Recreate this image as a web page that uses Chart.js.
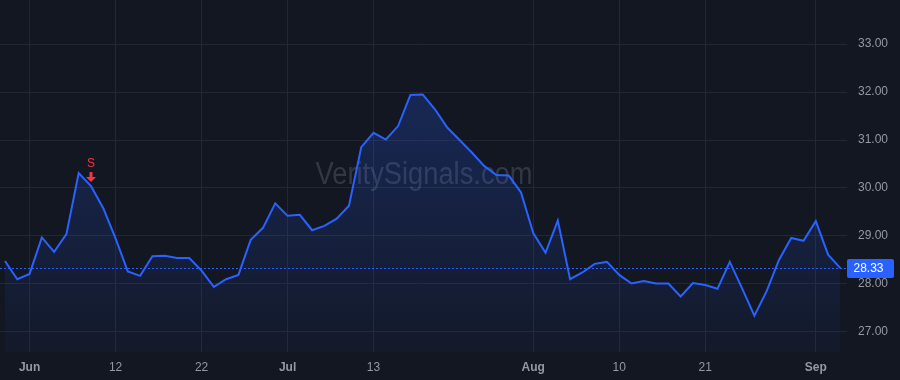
<!DOCTYPE html>
<html>
<head>
<meta charset="utf-8">
<script src="https://cdn.jsdelivr.net/npm/chart.js@4.4.1/dist/chart.umd.min.js"></script>
<style>
  html, body { margin: 0; padding: 0; background: #131722; }
  #wrap { width: 900px; height: 380px; }
</style>
</head>
<body>
<div id="wrap"><canvas id="c" width="900" height="380"></canvas></div>
<script>
// ---- data ----
const prices = [
  28.48, 28.10, 28.21, 28.97, 28.67, 29.04, 30.31, 30.04, 29.58, 28.95,
  28.26, 28.17, 28.58, 28.59, 28.54, 28.54, 28.28, 27.94, 28.10, 28.19,
  28.92, 29.17, 29.68, 29.42, 29.44, 29.12, 29.21, 29.36, 29.63, 30.85,
  31.15, 31.01, 31.29, 31.94, 31.95, 31.64, 31.26, 31.00, 30.74, 30.46,
  30.27, 30.26, 29.91, 29.06, 28.65, 29.32, 28.10, 28.24, 28.42, 28.46,
  28.19, 28.01, 28.06, 28.01, 28.01, 27.74, 28.02, 27.98, 27.90, 28.46,
  27.91, 27.34, 27.85, 28.50, 28.96, 28.90, 29.31, 28.61, 28.33
];
const xTickIndex = [2, 9, 16, 23, 30, 43, 50, 57, 66];
const xTickLabels = ['Jun', '12', '22', 'Jul', '13', 'Aug', '10', '21', 'Sep'];
const monthLabels = ['Jun', 'Jul', 'Aug', 'Sep'];
const yTicks = [27, 28, 29, 30, 31, 32, 33];
const signals = [{ index: 7, label: 'S' }];
const lastPrice = prices[prices.length - 1];
const watermark = 'VeritySignals.com';

const points = prices.map((v, i) => ({ x: i, y: v }));

const FONT = "'Liberation Sans', Arial, sans-serif";
const BLUE = '#2962ff';
const RED = '#f23645';

const overlay = {
  id: 'overlay',
  beforeDatasetsDraw(chart) {
    const { ctx } = chart;
    ctx.save();
    ctx.font = "31px " + FONT;
    ctx.fillStyle = 'rgba(120,124,136,0.32)';
    ctx.textAlign = 'center';
    ctx.textBaseline = 'alphabetic';
    ctx.fillText(watermark, 424, 184, 217);
    ctx.restore();
  },
  afterDatasetsDraw(chart) {
    const { ctx, chartArea, scales } = chart;
    const x = scales.x, y = scales.y;
    ctx.save();
    // price line
    const py = Math.round(y.getPixelForValue(lastPrice)) + 0.5;
    ctx.strokeStyle = BLUE;
    ctx.lineWidth = 1;
    ctx.setLineDash([2, 2]);
    ctx.beginPath();
    ctx.moveTo(chartArea.left, py);
    ctx.lineTo(chartArea.right, py);
    ctx.stroke();
    ctx.setLineDash([]);
    // price label
    const bx = chartArea.right, bw = 47, bh = 19;
    ctx.fillStyle = BLUE;
    ctx.beginPath();
    ctx.roundRect(bx, py - bh / 2, bw, bh, 2);
    ctx.fill();
    ctx.fillStyle = '#ffffff';
    ctx.font = "12px " + FONT;
    ctx.textAlign = 'center';
    ctx.textBaseline = 'middle';
    ctx.fillText(lastPrice.toFixed(2), bx + bw / 2 - 2, py + 0.5);
    // signals
    signals.forEach(s => {
      const sx = x.getPixelForValue(s.index);
      const sy = y.getPixelForValue(prices[s.index]);
      ctx.fillStyle = RED;
      ctx.font = "12px " + FONT;
      ctx.textAlign = 'center';
      ctx.textBaseline = 'middle';
      ctx.fillText(s.label, sx, sy - 22);
      const tip = sy - 4;
      ctx.fillRect(sx - 1.5, tip - 10, 3, 6);
      ctx.beginPath();
      ctx.moveTo(sx - 5, tip - 5);
      ctx.lineTo(sx + 5, tip - 5);
      ctx.lineTo(sx, tip);
      ctx.closePath();
      ctx.fill();
    });
    ctx.restore();
  }
};

function zeroPad(scale) {
  scale.paddingTop = 0; scale.paddingBottom = 0;
  scale.paddingLeft = 0; scale.paddingRight = 0;
}

new Chart(document.getElementById('c'), {
  type: 'line',
  data: {
    datasets: [{
      data: points,
      borderColor: BLUE,
      borderWidth: 2,
      pointRadius: 0,
      tension: 0,
      fill: 'start',
      backgroundColor(context) {
        const { chart } = context;
        const { ctx, chartArea } = chart;
        if (!chartArea) return 'rgba(41,98,255,0.15)';
        const g = ctx.createLinearGradient(0, chartArea.top, 0, chartArea.bottom);
        g.addColorStop(0, 'rgba(41,98,255,0.30)');
        g.addColorStop(1, 'rgba(41,98,255,0.04)');
        return g;
      }
    }]
  },
  options: {
    responsive: false,
    animation: false,
    layout: { padding: 0 },
    plugins: { legend: { display: false }, tooltip: { enabled: false } },
    scales: {
      x: {
        type: 'linear',
        min: -0.407,
        max: 68.54,
        afterBuildTicks(scale) { scale.ticks = xTickIndex.map(v => ({ value: v })); },
        afterFit(scale) { scale.height = 28; zeroPad(scale); },
        grid: { color: '#232733', drawTicks: false },
        border: { display: false },
        ticks: {
          autoSkip: false,
          maxRotation: 0,
          padding: 8,
          color: '#9598a1',
          font(ctx) {
            const lbl = xTickLabels[ctx.index];
            return { family: FONT, size: 12, weight: monthLabels.includes(lbl) ? 'bold' : 'normal' };
          },
          callback(value, index) { return xTickLabels[index]; }
        }
      },
      y: {
        position: 'right',
        min: 26.583,
        max: 33.917,
        afterBuildTicks(scale) { scale.ticks = yTicks.map(v => ({ value: v })); },
        afterFit(scale) { scale.width = 53; zeroPad(scale); },
        grid: { color: '#232733', drawTicks: false },
        border: { display: false },
        ticks: {
          padding: 11,
          color: '#9598a1',
          font: { family: FONT, size: 12 },
          callback(value) { return Number(value).toFixed(2); }
        }
      }
    }
  },
  plugins: [overlay]
});
</script>
</body>
</html>
